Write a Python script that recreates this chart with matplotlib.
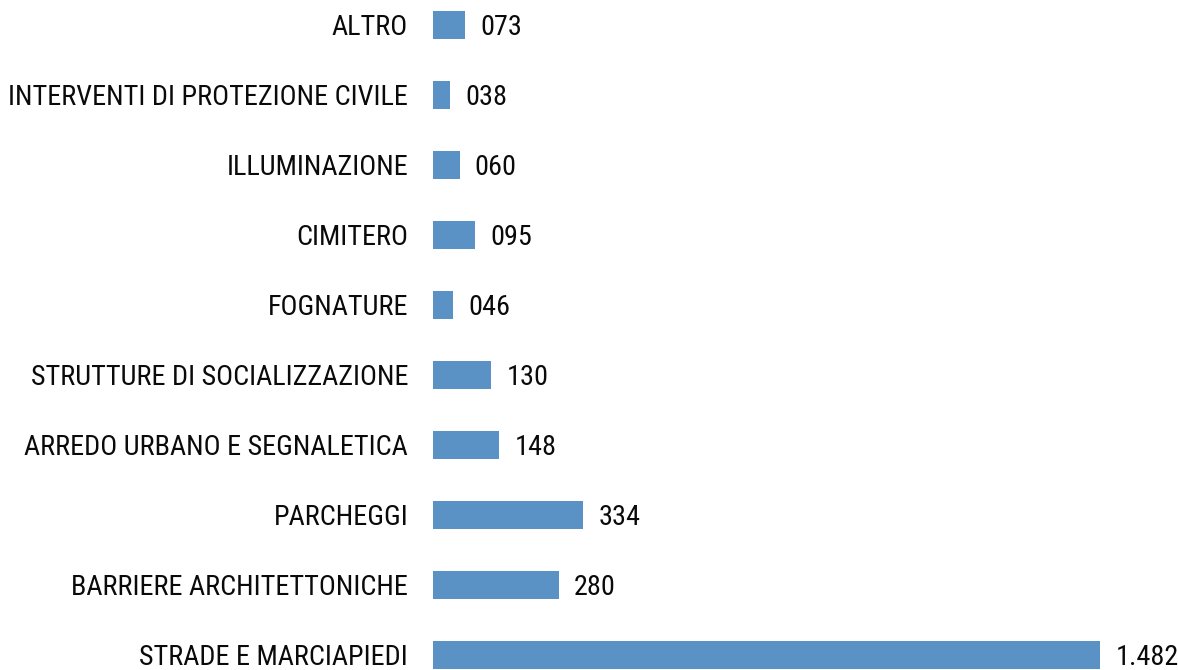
import matplotlib
matplotlib.use('Agg')
import matplotlib.pyplot as plt

categories = ['ALTRO', 'INTERVENTI DI PROTEZIONE CIVILE', 'ILLUMINAZIONE',
              'CIMITERO', 'FOGNATURE', 'STRUTTURE DI SOCIALIZZAZIONE',
              'ARREDO URBANO E SEGNALETICA', 'PARCHEGGI',
              'BARRIERE ARCHITETTONICHE', 'STRADE E MARCIAPIEDI']
values = [73, 38, 60, 95, 46, 130, 148, 334, 280, 1482]
value_labels = ['073', '038', '060', '095', '046', '130', '148', '334', '280', '1.482']

plt.rcParams['font.family'] = ['Roboto Condensed', 'DejaVu Sans']
plt.rcParams['font.stretch'] = 'condensed'

W, H = 1178, 670
fig = plt.figure(figsize=(W / 100, H / 100), dpi=100)
ax = fig.add_axes([0, 0, 1, 1])

# pixel layout: bars start at x=432, 0.4507 px per unit, rows every 70 px
x0, scale = 432.5, 0.4507
ax.set_xlim(-x0 / scale, (W - x0) / scale)
ax.set_ylim((H - 25) / 70, -25 / 70)

ypos = range(len(categories))
ax.barh(ypos, values, height=0.4, color='#5b92c6')

for y, cat, v, lab in zip(ypos, categories, values, value_labels):
    ax.annotate(cat, (0, y), xytext=(-17.5, -2), textcoords='offset points',
                ha='right', va='center', fontsize=20.3, fontweight=400,
                color='#0a0a0a')
    ax.annotate(lab, (v, y), xytext=(11, -2), textcoords='offset points',
                ha='left', va='center', fontsize=20.3, fontweight=400,
                color='#0a0a0a')

ax.axis('off')
fig.savefig('out.png', dpi=100, facecolor='white')
